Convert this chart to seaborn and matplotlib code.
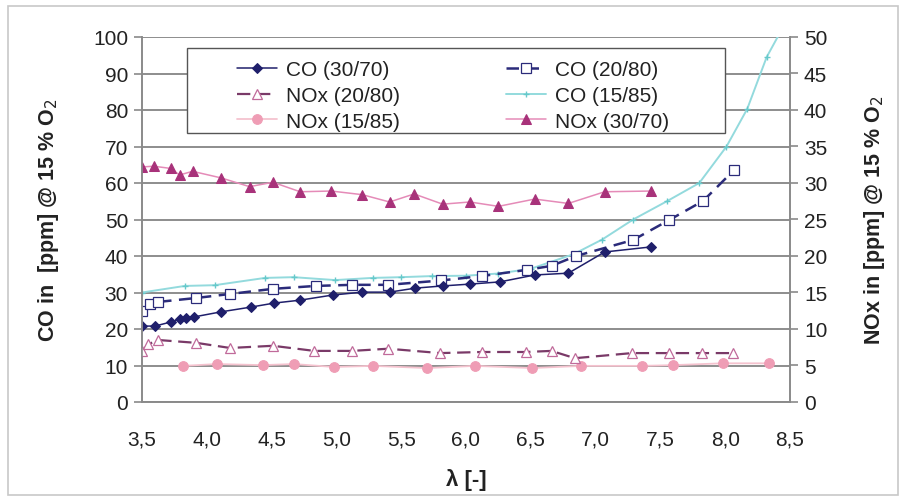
import matplotlib
matplotlib.use("Agg")
import matplotlib.pyplot as plt
import seaborn as sns
import pandas as pd
from matplotlib.patches import Rectangle

# values (CO on left axis, NOx on right axis)
co_3070_x = [3.50, 3.60, 3.72, 3.79, 3.84, 3.90, 4.11, 4.34, 4.52, 4.72, 4.97,
             5.20, 5.41, 5.61, 5.82, 6.03, 6.26, 6.53, 6.79, 7.07, 7.43]
co_3070_y = [20.8, 20.8, 21.9, 22.7, 23.0, 23.3, 24.7, 26.0, 27.1, 27.9, 29.3,
             30.1, 30.1, 31.2, 31.8, 32.3, 32.9, 34.8, 35.3, 41.1, 42.5]

co_2080_x = [3.50, 3.56, 3.62, 3.92, 4.18, 4.51, 4.84, 5.12, 5.40, 5.81, 6.12,
             6.47, 6.66, 6.85, 7.29, 7.57, 7.83, 8.07]
co_2080_y = [24.9, 26.8, 27.4, 28.5, 29.6, 31.0, 31.8, 32.1, 32.1, 33.3, 34.5,
             36.2, 37.3, 40.0, 44.4, 49.9, 55.1, 63.6]

co_1585_x = [3.50, 3.83, 4.06, 4.45, 4.67, 4.99, 5.28, 5.50, 5.74, 6.00, 6.25,
             6.50, 6.83, 7.05, 7.29, 7.55, 7.80, 8.01, 8.17, 8.32, 8.42]
co_1585_y = [30.0, 31.8, 32.0, 34.0, 34.2, 33.4, 34.0, 34.2, 34.5, 34.6, 35.2,
             36.5, 40.5, 44.5, 50.0, 55.0, 60.0, 70.0, 80.3, 94.5, 101.0]

nox_2080_x = [3.50, 3.55, 3.62, 3.92, 4.18, 4.51, 4.83, 5.12, 5.40, 5.80, 6.12,
              6.46, 6.66, 6.84, 7.28, 7.57, 7.82, 8.06]
nox_2080_y = [7.0, 7.9, 8.5, 8.1, 7.4, 7.7, 7.0, 7.0, 7.3, 6.7, 6.85,
              6.85, 7.0, 6.0, 6.7, 6.7, 6.7, 6.7]

nox_1585_x = [3.82, 4.08, 4.43, 4.67, 4.98, 5.28, 5.70, 6.07, 6.51, 6.89,
              7.36, 7.60, 7.98, 8.34]
nox_1585_y = [4.95, 5.2, 5.05, 5.2, 4.8, 4.95, 4.65, 4.95, 4.65, 4.95,
              4.95, 5.05, 5.3, 5.3]

nox_3070_x = [3.50, 3.59, 3.72, 3.79, 3.89, 4.11, 4.33, 4.51, 4.72, 4.96,
              5.20, 5.41, 5.60, 5.82, 6.03, 6.25, 6.53, 6.79, 7.07, 7.43]
nox_3070_y = [32.2, 32.3, 32.0, 31.1, 31.6, 30.7, 29.5, 30.1, 28.8, 28.9,
              28.4, 27.4, 28.5, 27.1, 27.4, 26.8, 27.8, 27.2, 28.8, 28.9]

x_ticks = [3.5, 4.0, 4.5, 5.0, 5.5, 6.0, 6.5, 7.0, 7.5, 8.0, 8.5]
x_labels = ["3,5", "4,0", "4,5", "5,0", "5,5", "6,0", "6,5", "7,0", "7,5", "8,0", "8,5"]

sns.set_style("white")
plt.rcParams['font.family'] = ['Liberation Sans', 'DejaVu Sans']
txt = "#222222"

fig = plt.figure(figsize=(9.06, 5.02), dpi=100)
ax = fig.add_axes([142 / 906, 1 - 403 / 502, 648 / 906, 365 / 502])
ax2 = ax.twinx()

def draw(a, xs, ys, label, **kw):
    df = pd.DataFrame({"x": xs, "y": ys})
    sns.lineplot(data=df, x="x", y="y", ax=a, label=label, sort=False, **kw)

# CO on left axis
draw(ax, co_1585_x, co_1585_y, "CO (15/85)", color="#93dadd", lw=1.4,
     marker="+", markersize=5, markeredgecolor="#66c9cb", markeredgewidth=1.0)
draw(ax, co_2080_x, co_2080_y, "CO (20/80)", color="#2b2b7a", lw=1.8,
     linestyle=(0, (5, 3)), marker="s", markersize=6.5,
     markerfacecolor="white", markeredgecolor="#2b2b7a", markeredgewidth=0.9)
draw(ax, co_3070_x, co_3070_y, "CO (30/70)", color="#1f1f6b", lw=1.1,
     marker="D", markersize=5.3, markeredgecolor="#1f1f6b")

# NOx on right axis
draw(ax2, nox_1585_x, nox_1585_y, "NOx (15/85)", color="#f5c3cf", lw=1.3,
     marker="o", markersize=7, markerfacecolor="#ef9db5", markeredgecolor="#ef9db5")
draw(ax2, nox_2080_x, nox_2080_y, "NOx (20/80)", color="#7a3a68", lw=1.6,
     linestyle=(0, (6, 3)), marker="^", markersize=7.5,
     markerfacecolor="white", markeredgecolor="#c06a9a", markeredgewidth=0.9)
draw(ax2, nox_3070_x, nox_3070_y, "NOx (30/70)", color="#e58bb8", lw=1.1,
     marker="^", markersize=7, markerfacecolor="#a8327a", markeredgecolor="#a8327a")

for a in (ax, ax2):
    if a.get_legend():
        a.get_legend().remove()
    a.set_xlabel("")
    a.set_ylabel("")

ax.set_xlim(3.5, 8.5)
ax.set_ylim(0, 100)
ax2.set_ylim(0, 50)
ax.set_xticks(x_ticks)
ax.set_xticklabels(x_labels)
ax.set_yticks(range(0, 101, 10))
ax2.set_yticks(range(0, 51, 5))

ax.grid(axis="y", color="#858585", lw=1.3)
ax.grid(axis="x", visible=False)
ax.set_axisbelow(True)

for a in (ax, ax2):
    for s in a.spines.values():
        s.set_color("#8a8a8a")
        s.set_linewidth(1.2)
    a.spines["top"].set_visible(False)
    a.tick_params(colors="#8a8a8a", labelcolor=txt, labelsize=15, width=1.2)
ax.tick_params(axis="y", direction="out", length=6, pad=4)
ax2.tick_params(axis="y", direction="out", length=6, pad=4)
ax.tick_params(axis="x", direction="out", length=8, pad=12)

ax.set_xlabel("λ [-]", fontsize=16, fontweight="bold", color=txt, labelpad=14)
ax.set_ylabel("CO in  [ppm] @ 15 % O$_2$", fontsize=15.5, fontweight="bold",
              color=txt, labelpad=23)
ax2.set_ylabel("NOx in [ppm] @ 15 % O$_2$", fontsize=15.5, fontweight="bold",
               color=txt, rotation=90, labelpad=25)

# legend, filled column by column to read row by row
h1, l1 = ax.get_legend_handles_labels()
h2, l2 = ax2.get_legend_handles_labels()
hd = dict(zip(l1 + l2, h1 + h2))
order = ["CO (30/70)", "NOx (20/80)", "NOx (15/85)",
         "CO (20/80)", "CO (15/85)", "NOx (30/70)"]
ax2.add_patch(Rectangle((187 / 906, 1 - 134 / 502), 538 / 906, 85 / 502,
                        transform=fig.transFigure, facecolor="white",
                        edgecolor="#555555", lw=1.0, zorder=4.5, clip_on=False))
leg = ax2.legend([hd[k] for k in order], order, ncol=2, loc="upper left",
                 bbox_to_anchor=(237 / 906, 1 - 61 / 502),
                 bbox_transform=fig.transFigure, borderaxespad=0, borderpad=0,
                 fontsize=15, frameon=False, handlelength=1.9, handletextpad=0.45,
                 labelspacing=0.33, columnspacing=5.1)
for t in leg.get_texts():
    t.set_color(txt)

fig.patches.append(Rectangle((8 / 906, 6 / 502), 890 / 906, 489 / 502,
                             transform=fig.transFigure, fill=False,
                             edgecolor="#c8c8c8", lw=1.2))

fig.savefig("out.png", dpi=100)
